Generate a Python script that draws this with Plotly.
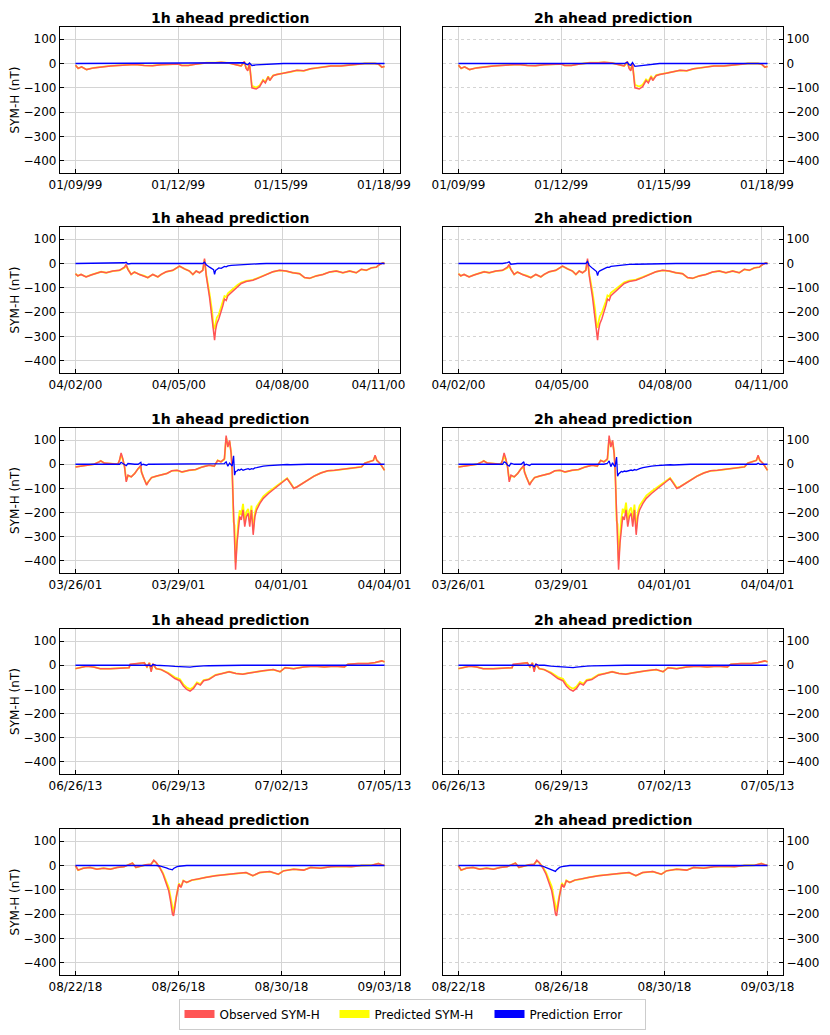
import plotly.graph_objects as go

# ---- storm 1: Jan 1999 (hours since 01/09/99 00:00) ----
t_99 = [0, 1.9, 4.3, 7.8, 12.6, 18, 24.5, 30, 36.4, 42,
        48.2, 54, 60.1, 66, 72, 74.4, 79.1, 83.9, 88.6, 92,
        98.1, 102, 107.6, 110, 112.4, 116, 118.3, 119.5, 120.7, 121.9,
        123.6, 126.6, 129, 131.4, 133, 135, 136.1, 138.5, 140.9, 145.6,
        150.4, 155.2, 159.9, 164.7, 169.4, 174.2, 178.9, 186, 193.2, 197.9,
        202.7, 209.8, 212.2, 214.6, 216.5]
obs_99 = [-7, -20, -14, -25, -18, -13, -10, -8, -5, -4,
          -8, -9, -5, -4, -2, -8, -8, -3, 2, 3,
          3, 5, 2, 0, -5, -10, 8, -20, -30, 0,
          -100, -105, -95, -70, -80, -55, -70, -50, -45, -40,
          -35, -28, -30, -22, -18, -15, -10, -10, -6, -3,
          0, 0, -2, -15, -12]
err1_99 = [0, 0, 0, 0, 0, 0, 0, 0, 0, 0,
           0, 0, 0, 0, 0, 0, 0, 0, 0, 0,
           0, 0, 0, 0, 0, 0, 3, -3, -5, 2,
           -8, -6, -5, -3, -4, -2, -2, -1, 0, 0,
           0, 0, 0, 0, 0, 0, 0, 0, 0, 0,
           0, 0, 0, 0, 0]
err2_99 = [0, 0, 0, 0, 0, 0, 0, 0, 0, 0,
           0, 0, 0, 0, 0, 0, 0, 0, 0, 0,
           0, 0, 0, 0, 0, 0, 5, -5, -8, 4,
           -12, -10, -8, -5, -6, -4, -3, -2, 0, 0,
           0, 0, 0, 0, 0, 0, 0, 0, 0, 0,
           0, 0, 0, 0, 0]
ticks_99 = [0, 72, 144, 216]
labels_99 = ["01/09/99", "01/12/99", "01/15/99", "01/18/99"]

# ---- storm 2: Apr 2000 ----
t_00 = [0, 1.6, 3.9, 7.4, 10.9, 14.4, 17.9, 21.4, 26, 30.7,
        34.1, 35.3, 36.5, 38.8, 41.1, 44.6, 48.1, 50.4, 53.9, 57.4,
        59.7, 63.2, 67.8, 72.5, 76, 79.4, 81.8, 84.1, 86.4, 88.7,
        89.9, 91.1, 93.4, 95.2, 96.2, 96.9, 97.6, 98.5, 99.9, 101.5,
        102.7, 103.8, 105, 106.2, 108.5, 110.8, 113.1, 115.5, 118.9, 123.6,
        128.2, 132.9, 137.5, 142.2, 146.8, 151.5, 156.1, 159.6, 163.1, 167.7,
        172.4, 177, 181.7, 186.3, 191, 195.6, 199.1, 202.6, 206.1, 209.6,
        211.9, 214.2, 215.3]
obs_00 = [-42, -51, -45, -55, -47, -42, -34, -38, -31, -28,
          -15, -4, -24, -45, -35, -45, -51, -58, -45, -55,
          -45, -34, -28, -11, -22, -31, -45, -31, -38, -28,
          20, -50, -139, -220, -288, -315, -274, -247, -227, -200,
          -173, -146, -152, -132, -119, -105, -92, -82, -74, -69,
          -58, -47, -34, -28, -31, -38, -42, -58, -61, -51,
          -45, -35, -31, -38, -31, -38, -24, -28, -18, -15,
          -4, 3, -1]
err1_00 = [0, 0, 0, 0, 0, 0, 0, 0, 0, 0,
           3, 5, -2, 0, 0, 0, 0, 0, 0, 0,
           0, 0, 0, 0, 0, 0, 0, 0, 0, 0,
           5, -5, -15, -22, -25, -45, -28, -25, -18, -20,
           -15, -12, -14, -10, -8, -7, -5, -4, -3, -2,
           -1, 0, 0, 0, 0, 0, 0, 0, 0, 0,
           0, 0, 0, 0, 0, 0, 0, 0, 0, 0,
           0, 0, 0]
err2_00 = [0, 0, 0, 0, 0, 0, 0, 0, 0, 0,
           4, 7, -3, 0, 0, 0, 0, 0, 0, 0,
           0, 0, 0, 0, 0, 0, 0, 0, 0, 0,
           8, -8, -20, -28, -33, -50, -35, -30, -25, -22,
           -18, -15, -16, -12, -10, -9, -7, -5, -4, -3,
           -2, -1, 0, 0, 0, 0, 0, 0, 0, 0,
           0, 0, 0, 0, 0, 0, 0, 0, 0, 0,
           0, 0, 0]
ticks_00 = [0, 72, 144, 211]
labels_00 = ["04/02/00", "04/05/00", "04/08/00", "04/11/00"]

# ---- storm 3: Mar/Apr 2001 ----
t_01 = [0, 3.5, 8.3, 13, 16.6, 17.7, 20.1, 23.7, 27.2, 29.6,
        30.8, 31.9, 33.1, 34.3, 35.5, 36.7, 39, 41.4, 43.8, 45.7,
        46.1, 47.3, 49.7, 50.9, 53.2, 56.8, 60.3, 63.9, 67.4, 71,
        74.5, 79.3, 84, 88.7, 93.5, 97, 99.4, 101.7, 104.1, 105.3,
        106.5, 107.7, 108.8, 109.5, 110.5, 111.2, 111.9, 112.9, 113.8, 114.8,
        115.9, 117.1, 118.3, 119.5, 120.7, 121.8, 123, 124.2, 125.4, 126.6,
        128.9, 131.3, 134.9, 138.4, 142, 145.5, 147.9, 150.2, 152.6, 155,
        158.5, 162.1, 166.8, 171.5, 176.3, 181, 185.7, 190.5, 195.2, 199.9,
        202.3, 205.8, 208.2, 209.4, 210.6, 212.9, 215.3, 216]
obs_01 = [-11, -8, -4, 0, 10, 14, 5, 3, -1, 0,
          16, 47, 23, -11, -73, -45, -52, -38, -18, -4,
          -32, -52, -86, -73, -55, -49, -45, -38, -27, -25,
          -32, -25, -22, -11, -4, -8, 16, 10, 23, 119,
          71, 99, 44, -25, -203, -299, -436, -326, -258, -216,
          -230, -189, -258, -216, -203, -258, -189, -292, -216, -189,
          -162, -141, -121, -104, -86, -73, -59, -79, -100, -93,
          -79, -66, -49, -36, -27, -25, -22, -18, -14, -11,
          5, 10, 16, 37, 16, 3, -18, -25]
err1_01 = [0, 0, 0, 0, 0, 0, 0, 0, 0, 0,
           0, 8, 4, -2, -6, 3, 0, 0, 0, 8,
           -3, 0, -4, 0, 0, 0, 0, 0, 0, 0,
           0, 0, 0, 0, 0, 0, 0, 0, 3, 10,
           -8, 5, -5, -8, 35, -45, -30, -28, -22, -25,
           -20, -25, -22, -20, -18, -22, -18, -20, -15, -14,
           -10, -8, -6, -4, -3, -2, -1, -2, -1, 0,
           0, 0, 0, 0, 0, 0, 0, 0, 0, 0,
           0, 0, 0, 3, 0, 0, 0, 0]
err2_01 = [0, 0, 0, 0, 0, 0, 0, 0, 0, 0,
           0, 10, 6, -3, -8, 4, 0, 0, 0, 10,
           -4, 0, -5, 0, 0, 0, 0, 0, 0, 0,
           0, 0, 0, 0, 0, 0, 0, 0, 4, 14,
           -10, 6, -6, -10, 30, -50, -40, -35, -30, -32,
           -28, -30, -27, -25, -24, -26, -22, -24, -20, -18,
           -14, -11, -8, -6, -4, -3, -2, -3, -2, -1,
           0, 0, 0, 0, 0, 0, 0, 0, 0, 0,
           0, 0, 0, 4, 0, 0, 0, 0]
ticks_01 = [0, 72, 144, 216]
labels_01 = ["03/26/01", "03/29/01", "04/01/01", "04/04/01"]

# ---- storm 4: Jun/Jul 2013 ----
t_13 = [0, 3.1, 7.8, 12.6, 17.3, 24.4, 31.5, 37.5, 38.2, 43.4,
        48.1, 50, 51.7, 52.9, 54.1, 56.4, 60, 64.7, 69.5, 73,
        75.4, 77.8, 80.1, 82.5, 84.9, 87.3, 89.6, 93.2, 97.9, 102.7,
        107.4, 112.1, 116.9, 121.6, 126.4, 131.1, 138.2, 143, 146.5, 152.5,
        159.6, 166.7, 173.8, 180.9, 188, 190.4, 197.5, 204.6, 209.4, 214.1,
        216]
obs_13 = [-14, -10, -4, -7, -14, -14, -11, -10, 4, 7,
          10, -7, 10, -27, 7, -14, -18, -34, -55, -64,
          -86, -100, -107, -96, -75, -82, -64, -59, -41, -34,
          -27, -34, -37, -32, -27, -23, -18, -27, -10, -14,
          -7, -4, -7, -4, -7, 4, 7, 7, 11, 18,
          14]
err1_13 = [0, 0, 0, 0, 0, 0, 0, 0, 2, 0,
           0, 0, 0, -4, 3, 0, 0, -3, -5, -6,
           -7, -8, -8, -6, -4, -4, -3, -2, -1, 0,
           0, 0, 0, 0, 0, 0, 0, 0, 0, 0,
           0, 0, 0, 0, 0, 0, 0, 0, 0, 0,
           0]
err2_13 = [0, 0, 0, 0, 0, 0, 0, 0, 3, 0,
           0, 0, 0, -6, 4, 0, 0, -4, -6, -8,
           -9, -10, -10, -8, -6, -5, -4, -3, -2, 0,
           0, 0, 0, 0, 0, 0, 0, 0, 0, 0,
           0, 0, 0, 0, 0, 0, 0, 0, 0, 0,
           0]
ticks_13 = [0, 72, 144, 216]
labels_13 = ["06/26/13", "06/29/13", "07/02/13", "07/05/13"]

# ---- storm 5: Aug/Sep 2018 ----
t_18 = [0, 2.5, 7.3, 13.6, 19.9, 26.2, 32.6, 38.9, 45.2, 49.9,
        53.1, 56.3, 61, 65.7, 70.5, 73, 75.2, 78.4, 81.6, 84.7,
        86.9, 88.8, 90.4, 91.4, 92.6, 94.2, 96.4, 98.3, 100.5, 103.7,
        108.4, 114.7, 121.1, 130.6, 140, 149.5, 159, 165.3, 171.6, 181.1,
        189, 193.8, 203.3, 212.7, 219.1, 228.5, 238, 247.5, 257, 266.5,
        276, 282.3, 285.4, 288]
obs_18 = [-1, -19, -11, -8, -15, -11, -15, -8, -5, 5,
          10, -8, -1, 3, 5, 22, 12, -8, -36, -77,
          -104, -152, -200, -207, -166, -125, -77, -90, -63, -70,
          -60, -56, -49, -42, -36, -33, -29, -42, -29, -25,
          -36, -22, -15, -19, -8, -11, -5, -3, -5, 0,
          1, 8, 3, 0]
err1_18 = [0, 0, 0, 0, 0, 0, 0, 0, 0, 0,
           0, 0, 0, 0, 0, 2, 0, -2, -5, -10,
           -14, -18, -18, -12, -8, -6, -3, -2, -1, 0,
           0, 0, 0, 0, 0, 0, 0, 0, 0, 0,
           0, 0, 0, 0, 0, 0, 0, 0, 0, 0,
           0, 0, 0, 0]
err2_18 = [0, 0, 0, 0, 0, 0, 0, 0, 0, 0,
           0, 0, 0, 0, 0, 3, 0, -3, -8, -14,
           -18, -22, -24, -18, -12, -8, -5, -3, -2, 0,
           0, 0, 0, 0, 0, 0, 0, 0, 0, 0,
           0, 0, 0, 0, 0, 0, 0, 0, 0, 0,
           0, 0, 0, 0]
ticks_18 = [0, 96, 192, 288]
labels_18 = ["08/22/18", "08/26/18", "08/30/18", "09/03/18"]

y_ticks = [-400, -300, -200, -100, 0, 100]
leads = ["1h ahead prediction", "2h ahead prediction"]

storms = [
    (t_99, obs_99, err1_99, err2_99, ticks_99, labels_99),
    (t_00, obs_00, err1_00, err2_00, ticks_00, labels_00),
    (t_01, obs_01, err1_01, err2_01, ticks_01, labels_01),
    (t_13, obs_13, err1_13, err2_13, ticks_13, labels_13),
    (t_18, obs_18, err1_18, err2_18, ticks_18, labels_18),
]

OBS_C = "#ff5555"
PRED_C = "#ffff00"
ERR_C = "#0000ff"
FONT = "DejaVu Sans"

# page body has an 8px margin, so the figure is 8px smaller and pixel
# positions below are page positions minus 8
W, H = 822, 1027
OFF = 8
col_px = [(60, 400), (443, 783)]
row_px = [(27, 173), (227, 373), (428, 573), (629, 774), (829, 975)]

fig = go.Figure()
layout = {}
annotations = []

for r, (t, obs, e1, e2, tv, tt) in enumerate(storms):
    assert len(t) == len(obs) == len(e1) == len(e2)
    T = t[-1]
    for c, err in enumerate((e1, e2)):
        n = r * 2 + c + 1
        xa = "x" if n == 1 else "x%d" % n
        ya = "y" if n == 1 else "y%d" % n
        pred = [o - e for o, e in zip(obs, err)]

        fig.add_trace(go.Scatter(x=t, y=pred, xaxis=xa, yaxis=ya, mode="lines",
                                 line=dict(color=PRED_C, width=1.8), showlegend=False))
        fig.add_trace(go.Scatter(x=t, y=obs, xaxis=xa, yaxis=ya, mode="lines",
                                 line=dict(color=OBS_C, width=1.5), showlegend=False))
        fig.add_trace(go.Scatter(x=t, y=err, xaxis=xa, yaxis=ya, mode="lines",
                                 line=dict(color=ERR_C, width=1.3), showlegend=False))

        x0, x1 = col_px[c]
        top, bot = row_px[r]
        xdom = [(x0 - OFF) / W, (x1 - OFF) / W]
        ydom = [1 - (bot - OFF) / H, 1 - (top - OFF) / H]

        layout[xa.replace("x", "xaxis")] = dict(
            domain=xdom, anchor=ya, range=[-0.05 * T, 1.05 * T], automargin=False,
            tickvals=tv, ticktext=tt, ticks="inside", ticklen=4, tickcolor="black",
            showline=True, mirror=True, linecolor="black", linewidth=1.2,
            showgrid=True, gridcolor="#d4d4d4", gridwidth=1, zeroline=False,
            tickfont=dict(size=12, color="black"))
        layout[ya.replace("y", "yaxis")] = dict(
            domain=ydom, anchor=xa, range=[-450, 150], tickvals=y_ticks, automargin=False,
            side="left" if c == 0 else "right",
            ticks="inside", ticklen=4, tickcolor="black",
            showline=True, mirror=True, linecolor="black", linewidth=1.2,
            showgrid=True, gridcolor="#d4d4d4", gridwidth=1,
            griddash="solid" if c == 0 else "dot", zeroline=False,
            tickfont=dict(size=12, color="black"),
            title=dict(text="SYM-H (nT)" if c == 0 else "", font=dict(size=12), standoff=6))

        # title box top sits just under the top of the figure
        annotations.append(dict(
            text="<b>%s</b>" % leads[c], xref="paper", yref="paper",
            x=(xdom[0] + xdom[1]) / 2, y=ydom[1], xanchor="center", yanchor="top",
            yshift=19.5, showarrow=False, font=dict(size=14, color="black")))

# legend-only entries
for name, color in [("Observed SYM-H", OBS_C), ("Predicted SYM-H", PRED_C),
                    ("Prediction Error", ERR_C)]:
    fig.add_trace(go.Scatter(x=[None], y=[None], mode="lines", name=name,
                             line=dict(color=color, width=8)))

fig.update_layout(
    width=W, height=H,
    margin=dict(l=0, r=0, t=0, b=0),
    paper_bgcolor="white", plot_bgcolor="white",
    font=dict(family=FONT, size=12, color="black"),
    annotations=annotations,
    legend=dict(orientation="h", x=(412 - OFF) / W, xanchor="center",
                y=(1035 - 1014) / H, yanchor="middle", entrywidth=110,
                bordercolor="#cccccc", borderwidth=1, font=dict(size=12)),
    **layout,
)

fig.write_html("out.html")
